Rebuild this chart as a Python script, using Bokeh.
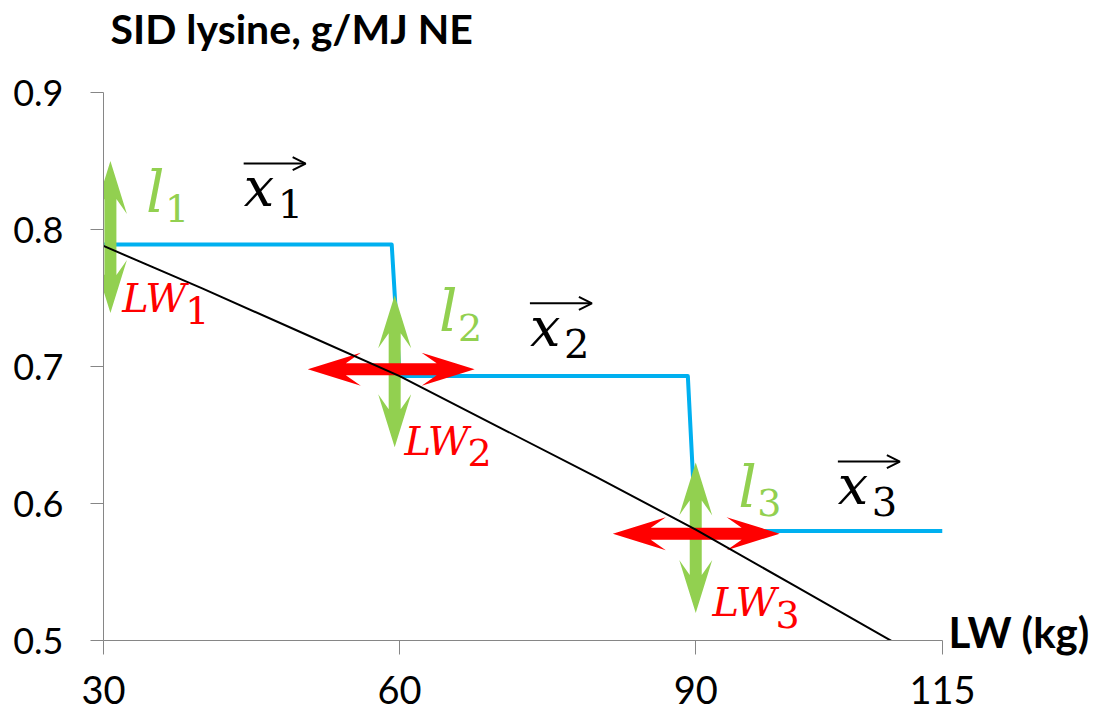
from bokeh.plotting import figure
from bokeh.models import Range1d, FixedTicker, LinearAxis, Arrow, OpenHead, ColumnDataSource
from bokeh.core.properties import value
from bokeh.embed import file_html
from bokeh.resources import INLINE

# ---------------- data ----------------
# SID lysine requirement curve (black)
req_lw = [30, 40, 50, 60, 70, 80, 90, 100, 110, 115]
req_lys = [0.788, 0.757, 0.725, 0.693, 0.656, 0.619, 0.581, 0.540, 0.499, 0.478]
# three-phase feeding supply (blue step line)
phase_lw = [30, 59.2, 60, 89.2, 90, 115]
phase_lys = [0.789, 0.789, 0.693, 0.693, 0.580, 0.580]

x_ticks = [30, 60, 90, 115]
y_ticks = [0.5, 0.6, 0.7, 0.8, 0.9]
y_tick_labels = ["0.5", "0.6", "0.7", "0.8", "0.9"]

# annotation arrows: green vertical (levels l_i), red horizontal (weights LW_i)
green_x = [30.7, 59.5, 90.0]
green_y0 = [0.739, 0.641, 0.520]
green_y1 = [0.850, 0.752, 0.630]
red_y = [0.698, 0.578]
red_x0 = [50.7, 81.6]
red_x1 = [67.6, 98.5]

# label anchors (baselines)
subs = ["1", "2", "3"]
l_x = [34.3, 64.0, 94.3]
l_y = [0.812, 0.725, 0.597]
vec_x = [44.2, 73.2, 104.4]
vec_y = [0.816, 0.714, 0.5985]
lw_x = [31.9, 60.5, 91.7]
lw_y = [0.739, 0.635, 0.517]

# ---------------- figure ----------------
W, H = 1105, 719
BL, BR, BT, BB = 103, 163, 92, 79
FW, FH = W - BL - BR, H - BT - BB
X0, X1 = 30, 115
Y0, Y1 = 0.5, 0.9
SX = FW / (X1 - X0)   # px per kg
SY = FH / (Y1 - Y0)   # px per unit

p = figure(width=W, height=H,
           x_range=Range1d(X0, X1), y_range=Range1d(Y0, Y1),
           output_backend="svg", toolbar_location=None,
           min_border_left=BL, min_border_right=BR,
           min_border_top=BT, min_border_bottom=BB,
           title="SID lysine, g/MJ NE")
p.outline_line_color = None
p.grid.visible = False

p.title.align = "left"
p.title.offset = 7
p.title.standoff = 0
p.title.text_font = "Lato"
p.title.text_font_style = "bold"
p.title.text_font_size = "41px"
p.title.text_color = "black"

AX = "#868686"
yax = p.left[0]
yax.ticker = FixedTicker(ticks=y_ticks)
yax.major_label_overrides = dict(zip(y_ticks, y_tick_labels))
yax.major_tick_out = 13
yax.major_tick_in = 0
yax.minor_tick_line_color = None
yax.axis_line_color = AX
yax.major_tick_line_color = AX
yax.major_label_standoff = 27
yax.major_label_text_font = "Lato"
yax.major_label_text_font_size = "36px"
yax.major_label_text_color = "black"

xax = p.below[0]
xax.ticker = FixedTicker(ticks=x_ticks)
xax.major_tick_out = 14
xax.major_tick_in = 0
xax.minor_tick_line_color = None
xax.axis_line_color = AX
xax.major_tick_line_color = AX
xax.major_label_standoff = 21
xax.major_label_text_font = "Lato"
xax.major_label_text_font_size = "38px"
xax.major_label_text_color = "black"

# invisible spacer between the title and the plot frame
spacer = LinearAxis(ticker=FixedTicker(ticks=[X0]), major_label_overrides={X0: ""},
                    axis_line_color=None,
                    major_tick_line_color=None, minor_tick_line_color=None,
                    major_tick_in=0, major_tick_out=40, major_label_standoff=0)
p.add_layout(spacer, "above")

# x-axis name shown at the right end of the x axis
name_tick = Y0 + 9 / SY
name_axis = LinearAxis(ticker=FixedTicker(ticks=[name_tick]),
                       major_label_overrides={name_tick: "LW (kg)"},
                       axis_line_color=None, major_tick_line_color=None,
                       minor_tick_line_color=None,
                       major_tick_in=0, major_tick_out=0,
                       major_label_standoff=6,
                       major_label_text_font="Lato",
                       major_label_text_font_style="bold",
                       major_label_text_font_size="42px",
                       major_label_text_color="black")
p.add_layout(name_axis, "right")

# ---------------- lines ----------------
p.line(phase_lw, phase_lys, line_width=4, line_color="#00b0f0", line_join="round")

# ---------------- double arrows as polygons ----------------
HEAD_L, HEAD_HW, SHAFT_HW, NOTCH = 53, 16.5, 6, 38


def vert_arrow(x, y0, y1):
    xs = [x, x + HEAD_HW / SX, x + SHAFT_HW / SX, x + SHAFT_HW / SX, x + HEAD_HW / SX, x,
          x - HEAD_HW / SX, x - SHAFT_HW / SX, x - SHAFT_HW / SX, x - HEAD_HW / SX]
    ys = [y1, y1 - HEAD_L / SY, y1 - NOTCH / SY, y0 + NOTCH / SY, y0 + HEAD_L / SY, y0,
          y0 + HEAD_L / SY, y0 + NOTCH / SY, y1 - NOTCH / SY, y1 - HEAD_L / SY]
    return xs, ys


def horiz_arrow(y, x0, x1):
    xs = [x1, x1 - HEAD_L / SX, x1 - NOTCH / SX, x0 + NOTCH / SX, x0 + HEAD_L / SX, x0,
          x0 + HEAD_L / SX, x0 + NOTCH / SX, x1 - NOTCH / SX, x1 - HEAD_L / SX]
    ys = [y, y + HEAD_HW / SY, y + SHAFT_HW / SY, y + SHAFT_HW / SY, y + HEAD_HW / SY, y,
          y - HEAD_HW / SY, y - SHAFT_HW / SY, y - SHAFT_HW / SY, y - HEAD_HW / SY]
    return xs, ys


gx, gy = zip(*[vert_arrow(x, a, b) for x, a, b in zip(green_x, green_y0, green_y1)])
p.patches(list(gx), list(gy), fill_color="#92d050", line_color=None)
rx, ry = zip(*[horiz_arrow(y, a, b) for y, a, b in zip(red_y, red_x0, red_x1)])
p.patches(list(rx), list(ry), fill_color="#ff0000", line_color=None)

p.line(req_lw, req_lys, line_width=2, line_color="black")

# ---------------- math-like labels ----------------
SERIF = value("DejaVu Serif")
K = 0.37  # baseline correction (fraction of font size)


def math_label(xs, ys, main, size_main, size_sub, dx_sub, dy_sub, color):
    p.text(x=xs, y=ys, text=[main] * len(xs), text_font=SERIF, text_font_style="italic",
           text_font_size=f"{size_main}px", text_color=color,
           text_baseline="alphabetic", y_offset=-round(K * size_main))
    p.text(x=xs, y=ys, text=subs, text_font=SERIF, text_font_size=f"{size_sub}px",
           text_color=color, text_baseline="alphabetic",
           x_offset=dx_sub, y_offset=dy_sub - round(K * size_sub))


math_label(l_x, l_y, "l", 58, 38, 19, 9, "#92d050")
math_label(vec_x, vec_y, "x", 54, 40, 34, 11, "black")
math_label(lw_x, lw_y, "LW", 40, 38, 63, 11, "#ff0000")

vec_src = ColumnDataSource(dict(x0=vec_x, x1=[v + 62 / SX for v in vec_x],
                                y=[v + 44 / SY for v in vec_y]))
p.add_layout(Arrow(end=OpenHead(size=13, line_width=2, line_color="black"),
                   x_start="x0", x_end="x1", y_start="y", y_end="y",
                   line_width=2, line_color="black", source=vec_src))

open("out.html", "w").write(file_html(p, INLINE))
